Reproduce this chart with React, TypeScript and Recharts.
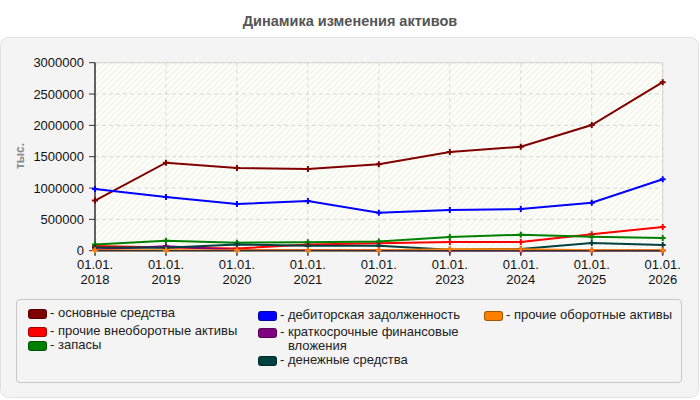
import React from 'react';
import {
  LineChart,
  Line,
  XAxis,
  YAxis,
  CartesianGrid,
  ReferenceLine,
} from 'recharts';

const FONT = '"Liberation Sans", Arial, sans-serif';
const AXIS = '#333333';
const GRID = '#d6d6d6';

const categories = [
  '01.01.2018',
  '01.01.2019',
  '01.01.2020',
  '01.01.2021',
  '01.01.2022',
  '01.01.2023',
  '01.01.2024',
  '01.01.2025',
  '01.01.2026',
];

const fixedAssets = [800000, 1405000, 1320000, 1305000, 1380000, 1575000, 1660000, 2005000, 2690000];
const otherNonCurrent = [75000, 50000, 35000, 100000, 117000, 138000, 140000, 262000, 378000];
const inventory = [100000, 160000, 128000, 133000, 145000, 218000, 255000, 223000, 202000];
const receivables = [985000, 857000, 745000, 793000, 606000, 649000, 665000, 766000, 1140000];
const shortInvestments = [20000, 72000, 10000, 10000, 8000, 5000, 5000, 5000, 5000];
const cash = [53000, 48000, 100000, 80000, 80000, 15000, 28000, 122000, 90000];
const otherCurrent = [8000, 8000, 8000, 8000, 8000, 22000, 22000, 8000, 8000];

const yTicks = [0, 500000, 1000000, 1500000, 2000000, 2500000, 3000000];

const series = [
  { key: 'fixed', name: 'основные средства', color: '#800000', values: fixedAssets },
  { key: 'otherNc', name: 'прочие внеоборотные активы', color: '#ff0000', values: otherNonCurrent },
  { key: 'inventory', name: 'запасы', color: '#008000', values: inventory },
  { key: 'receivables', name: 'дебиторская задолженность', color: '#0000ff', values: receivables },
  { key: 'shortInv', name: 'краткосрочные финансовые вложения', color: '#800080', values: shortInvestments },
  { key: 'cash', name: 'денежные средства', color: '#004040', values: cash },
  { key: 'otherCur', name: 'прочие оборотные активы', color: '#ff8000', values: otherCurrent },
];

const data = categories.map((date, i) => {
  const row: Record<string, number | string> = { date };
  series.forEach((s) => {
    row[s.key] = s.values[i];
  });
  return row;
});

// legend placement: [left, top] per series, same order as above
const legendSlots: [number, number][] = [
  [28, 306],
  [28, 324],
  [28, 338],
  [258, 308],
  [258, 325],
  [258, 353],
  [484, 308],
];

const PlusDot = (props: any) => {
  const { cx, cy, stroke } = props;
  if (cx == null || cy == null) return null;
  return (
    <path
      d={`M${cx - 3},${cy}h6M${cx},${cy - 3}v6`}
      stroke={stroke}
      strokeWidth={2}
      fill="none"
    />
  );
};

const DateTick = (props: any) => {
  const { x, y, payload } = props;
  const [dm1, dm2, year] = String(payload.value).split('.');
  return (
    <text x={x} y={y} textAnchor="middle" fontSize={13} fill="#111" fontFamily={FONT}>
      <tspan x={x} dy={11}>{`${dm1}.${dm2}.`}</tspan>
      <tspan x={x} dy={15}>{year}</tspan>
    </text>
  );
};

export default function App() {
  return (
    <div style={{ position: 'absolute', left: 0, top: 0, width: 700, height: 400, fontFamily: FONT }}>
      <svg width={700} height={400} style={{ position: 'absolute', left: 0, top: 0 }}>
        <defs>
          <pattern id="hatch" width={6} height={6} patternUnits="userSpaceOnUse">
            <rect width={6} height={6} fill="#fdfdf7" />
            <path d="M0,6L6,0M-1,1L1,-1M5,7L7,5" stroke="#efefea" strokeWidth={1} />
          </pattern>
        </defs>
        <rect x={0.5} y={37.5} width={698} height={360} rx={8} fill="#f4f4f4" stroke="#e2e2e2" />
        <text x={350} y={26} textAnchor="middle" fontSize={14.5} fontWeight="bold" fill="#555">
          Динамика изменения активов
        </text>
        <text
          x={24}
          y={156}
          transform="rotate(-90 24 156)"
          textAnchor="middle"
          fontSize={12}
          fontWeight="bold"
          fill="#8a8a8a"
        >
          тыс.
        </text>
      </svg>
      <div style={{ position: 'absolute', left: 0, top: 0 }}>
        <LineChart
          width={700}
          height={400}
          data={data}
          margin={{ top: 62.7, right: 37.3, left: 15, bottom: 109.3 }}
        >
          <CartesianGrid
            stroke={GRID}
            strokeDasharray="4 3"
            fill="url(#hatch)"
            fillOpacity={1}
          />
          <ReferenceLine y={3000000} stroke={GRID} />
          <ReferenceLine x="01.01.2026" stroke={GRID} />
          <XAxis
            dataKey="date"
            height={40}
            interval={0}
            tick={<DateTick />}
            tickSize={5}
            tickMargin={2}
            stroke={AXIS}
            axisLine={{ stroke: AXIS, strokeWidth: 1.5 }}
            tickLine={{ stroke: AXIS, strokeWidth: 1.5 }}
          />
          <YAxis
            width={80}
            domain={[0, 3000000]}
            ticks={yTicks}
            interval={0}
            tickSize={6}
            tickMargin={5}
            tick={{ fontSize: 13, fill: '#111', fontFamily: FONT }}
            axisLine={{ stroke: AXIS, strokeWidth: 1.5 }}
            tickLine={{ stroke: AXIS, strokeWidth: 1 }}
          />
          {series.map((s) => (
            <Line
              key={s.key}
              type="linear"
              dataKey={s.key}
              name={s.name}
              stroke={s.color}
              strokeWidth={2}
              dot={<PlusDot />}
              activeDot={false}
              isAnimationActive={false}
            />
          ))}
        </LineChart>
      </div>
      <div
        style={{
          position: 'absolute',
          left: 16,
          top: 299,
          width: 666,
          height: 84,
          border: '1px solid #c8c8c8',
          borderRadius: 4,
          boxSizing: 'border-box',
          background: '#f4f4f4',
        }}
      />
      {series.map((s, i) => {
        const [lx, ly] = legendSlots[i];
        return (
          <div
            key={s.key}
            style={{
              position: 'absolute',
              left: lx,
              top: ly,
              display: 'flex',
              alignItems: 'flex-start',
              fontSize: 13,
              lineHeight: '14px',
              color: '#222',
            }}
          >
            <span
              style={{
                display: 'inline-block',
                width: 17,
                height: 8,
                marginTop: 3,
                background: s.color,
                border: '1px solid rgba(0,0,0,0.35)',
                borderRadius: 3,
              }}
            />
            <span style={{ marginLeft: 3, whiteSpace: 'pre' }}>- </span>
            <span style={{ display: 'inline-block', width: 185 }}>{s.name}</span>
          </div>
        );
      })}
    </div>
  );
}
